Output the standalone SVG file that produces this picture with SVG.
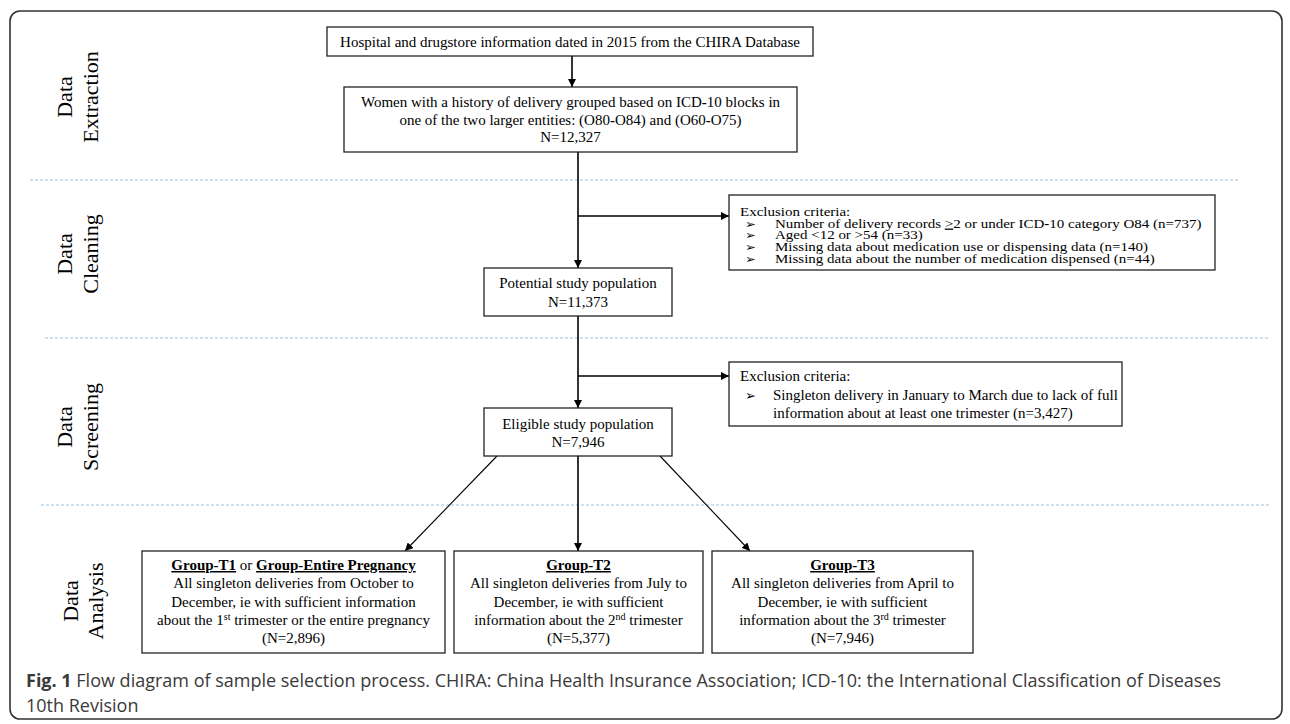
<svg xmlns="http://www.w3.org/2000/svg" width="1290" height="724" viewBox="0 0 1290 724">
<style>
.t{font-family:"Liberation Serif","Times New Roman",serif;font-size:15px;fill:#000}
.side{font-family:"Liberation Serif","Times New Roman",serif;font-size:22px;fill:#000}
.box{fill:#fff;stroke:#222;stroke-width:1.3}
.dash{stroke:#9cc2e5;stroke-width:1.2;stroke-dasharray:3 2}
.con{stroke:#000;stroke-width:1.6;fill:none}
.diag{stroke:#000;stroke-width:1.1;fill:none}
.b{font-weight:bold}
.u{font-weight:bold;text-decoration:underline}
.bul{font-family:"DejaVu Sans",sans-serif;font-size:13px}
.cap{font-family:"Open Sans",sans-serif;font-size:18px;fill:#3a3a3a}
</style>
<defs>
<marker id="ah" viewBox="0 0 10 10" refX="10" refY="5" markerWidth="8" markerHeight="8" markerUnits="userSpaceOnUse" orient="auto">
<path d="M0,0 L10,5 L0,10 z" fill="#000"/>
</marker>
</defs>
<rect x="10" y="11" width="1272" height="708" rx="10" fill="#fff" stroke="#333" stroke-width="1.6"/>

<g id="dividers">
<line class="dash" x1="30" y1="180" x2="1240" y2="180"/>
<line class="dash" x1="45" y1="338" x2="1270" y2="338"/>
<line class="dash" x1="41" y1="505" x2="1270" y2="505"/>
</g>

<g id="labels">
<text class="side" text-anchor="middle" transform="translate(72,97) rotate(-90)">Data</text>
<text class="side" text-anchor="middle" transform="translate(98,97) rotate(-90)">Extraction</text>
<text class="side" text-anchor="middle" transform="translate(72,254) rotate(-90)">Data</text>
<text class="side" text-anchor="middle" transform="translate(98,254) rotate(-90)">Cleaning</text>
<text class="side" text-anchor="middle" transform="translate(72,427) rotate(-90)">Data</text>
<text class="side" text-anchor="middle" transform="translate(98,427) rotate(-90)">Screening</text>
<text class="side" text-anchor="middle" transform="translate(78,601) rotate(-90)">Data</text>
<text class="side" text-anchor="middle" transform="translate(103,601) rotate(-90)">Analysis</text>
</g>

<g id="connectors">
<line class="con" x1="572" y1="56" x2="572" y2="87" marker-end="url(#ah)"/>
<line class="con" x1="578" y1="152" x2="578" y2="268" marker-end="url(#ah)"/>
<line class="con" x1="578" y1="216" x2="729" y2="216" marker-end="url(#ah)"/>
<line class="con" x1="578" y1="316" x2="578" y2="408" marker-end="url(#ah)"/>
<line class="con" x1="578" y1="376" x2="729" y2="376" marker-end="url(#ah)"/>
<line class="diag" x1="497" y1="456" x2="405" y2="551" marker-end="url(#ah)"/>
<line class="con" x1="578" y1="456" x2="578" y2="551" marker-end="url(#ah)"/>
<line class="diag" x1="660" y1="456" x2="750" y2="551" marker-end="url(#ah)"/>
</g>

<g id="source">
<rect class="box" x="327" y="27" width="486" height="29"/>
<text class="t" x="570" y="47" text-anchor="middle">Hospital and drugstore information dated in 2015 from the CHIRA Database</text>
</g>

<g id="women">
<rect class="box" x="344" y="87" width="453" height="65"/>
<text class="t" x="570.5" y="107" text-anchor="middle">Women with a history of delivery grouped based on ICD<tspan class="b">-</tspan>10 blocks in</text>
<text class="t" x="570.5" y="125" text-anchor="middle">one of the two larger entities: (O80<tspan class="b">-</tspan>O84) and (O60<tspan class="b">-</tspan>O75)</text>
<text class="t" x="570.5" y="142" text-anchor="middle">N=12,327</text>
</g>

<g id="exclusion1">
<rect class="box" x="729" y="195" width="486" height="75"/>
<g transform="translate(0,195) scale(1,0.85)">
<text class="t" x="740" y="24.6">Exclusion criteria:</text>
<text class="bul" x="745" y="38.4">➢</text>
<text class="t" x="775" y="38.4">Number of delivery records <tspan text-decoration="underline">&gt;</tspan>2 or under ICD<tspan class="b">-</tspan>10 category O84 (n=737)</text>
<text class="bul" x="745" y="52.2">➢</text>
<text class="t" x="775" y="52.2">Aged &lt;12 or &gt;54 (n=33)</text>
<text class="bul" x="745" y="66">➢</text>
<text class="t" x="775" y="66">Missing data about medication use or dispensing data (n=140)</text>
<text class="bul" x="745" y="79.8">➢</text>
<text class="t" x="775" y="79.8">Missing data about the number of medication dispensed (n=44)</text>
</g>
</g>

<g id="potential">
<rect class="box" x="484" y="268" width="188" height="48"/>
<text class="t" x="578" y="288" text-anchor="middle">Potential study population</text>
<text class="t" x="578" y="307" text-anchor="middle">N=11,373</text>
</g>

<g id="exclusion2">
<rect class="box" x="729" y="362" width="393" height="64"/>
<text class="t" x="740" y="381">Exclusion criteria:</text>
<text class="bul" x="745" y="400">➢</text>
<text class="t" x="773" y="400">Singleton delivery in January to March due to lack of full</text>
<text class="t" x="773" y="418">information about at least one trimester (n=3,427)</text>
</g>

<g id="eligible">
<rect class="box" x="484" y="408" width="188" height="48"/>
<text class="t" x="578" y="429" text-anchor="middle">Eligible study population</text>
<text class="t" x="578" y="447" text-anchor="middle">N=7,946</text>
</g>

<g id="groupT1">
<rect class="box" x="142" y="551" width="303" height="102"/>
<text class="t" x="293.5" y="570" text-anchor="middle"><tspan class="u">Group-T1</tspan> or <tspan class="u">Group-Entire Pregnancy</tspan></text>
<text class="t" x="293.5" y="588.3" text-anchor="middle">All singleton deliveries from October to</text>
<text class="t" x="293.5" y="606.6" text-anchor="middle">December, ie with sufficient information</text>
<text class="t" x="293.5" y="625" text-anchor="middle">about the 1<tspan font-size="10" dy="-5">st</tspan><tspan dy="5"> trimester or the entire pregnancy</tspan></text>
<text class="t" x="293.5" y="643" text-anchor="middle">(N=2,896)</text>
</g>

<g id="groupT2">
<rect class="box" x="454" y="551" width="249" height="102"/>
<text class="t" x="578.5" y="570" text-anchor="middle"><tspan class="u">Group-T2</tspan></text>
<text class="t" x="578.5" y="588.3" text-anchor="middle">All singleton deliveries from July to</text>
<text class="t" x="578.5" y="606.6" text-anchor="middle">December, ie with sufficient</text>
<text class="t" x="578.5" y="625" text-anchor="middle">information about the 2<tspan font-size="10" dy="-5">nd</tspan><tspan dy="5"> trimester</tspan></text>
<text class="t" x="578.5" y="643" text-anchor="middle">(N=5,377)</text>
</g>

<g id="groupT3">
<rect class="box" x="712" y="551" width="261" height="102"/>
<text class="t" x="842.5" y="570" text-anchor="middle"><tspan class="u">Group-T3</tspan></text>
<text class="t" x="842.5" y="588.3" text-anchor="middle">All singleton deliveries from April to</text>
<text class="t" x="842.5" y="606.6" text-anchor="middle">December, ie with sufficient</text>
<text class="t" x="842.5" y="625" text-anchor="middle">information about the 3<tspan font-size="10" dy="-5">rd</tspan><tspan dy="5"> trimester</tspan></text>
<text class="t" x="842.5" y="643" text-anchor="middle">(N=7,946)</text>
</g>

<g id="caption">
<text class="cap" x="26" y="687"><tspan font-weight="bold">Fig. 1</tspan> Flow diagram of sample selection process. CHIRA: China Health Insurance Association; ICD-10: the International Classification of Diseases</text>
<text class="cap" x="26" y="712">10th Revision</text>
</g>
</svg>
